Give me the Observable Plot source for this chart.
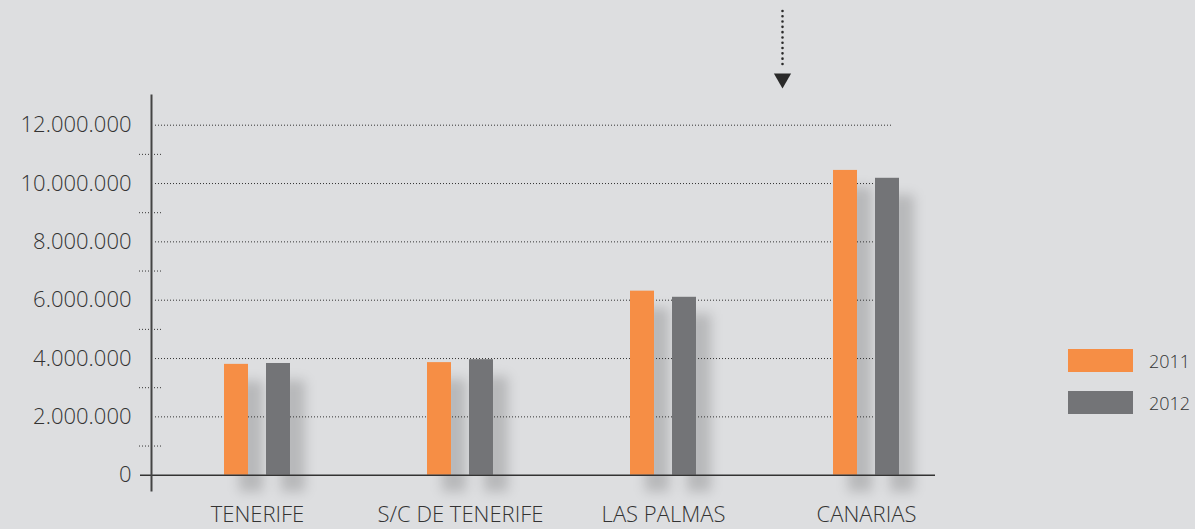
<!DOCTYPE html>
<html>
<head>
<meta charset="utf-8">
<script src="https://cdn.jsdelivr.net/npm/d3@7"></script>
<script src="https://cdn.jsdelivr.net/npm/@observablehq/plot@0.6"></script>
<style>
  html, body { margin: 0; padding: 0; background: #dddee0; }
  #wrap { position: relative; width: 1195px; height: 529px; overflow: hidden; }
  #legend { position: absolute; left: 1068px; top: 349px; font-family: "Open Sans", sans-serif; font-weight: 300; font-size: 18px; color: #333; }
  .item { display: flex; align-items: center; height: 23px; margin-bottom: 19px; }
  .sw { width: 65px; height: 23px; margin-right: 16px; }
</style>
</head>
<body>
<div id="wrap"><div id="legend"></div></div>
<script>
const categories = ["TENERIFE", "S/C DE TENERIFE", "LAS PALMAS", "CANARIAS"];
const years = ["2011", "2012"];
const values2011 = [3800000, 3860000, 6310000, 10450000];
const values2012 = [3830000, 3960000, 6100000, 10180000];
const yTicks = [0, 2000000, 4000000, 6000000, 8000000, 10000000, 12000000];
const gridTicks = [2000000, 4000000, 6000000, 8000000, 10000000, 12000000];
const minorTicks = [1000000, 3000000, 5000000, 7000000, 9000000, 11000000];
const arrowLine = [{y1: 15900000, y2: 14000000}];
const arrowHead = [{y: 13600000}];
const colors = ["#f68e45", "#737477"];

const d2011 = categories.map((c, i) => ({cat: c, value: values2011[i]}));
const d2012 = categories.map((c, i) => ({cat: c, value: values2012[i]}));
const fmt = d => d3.format(",")(d).replace(/,/g, ".");
const shadow = {fill: "#000", fillOpacity: 0.17, dx: 15, dy: 17};

const chart = Plot.plot({
  width: 1195,
  height: 529,
  marginLeft: 139,
  marginRight: 260,
  marginTop: 95,
  marginBottom: 39,
  style: {background: "#dddee0", fontFamily: "'Open Sans', sans-serif", fontWeight: 300, fontSize: "22px", color: "#333"},
  x: {domain: categories, range: [224, 899], paddingInner: 0.675, paddingOuter: 0, label: null},
  y: {domain: [0, 12000000], range: [474.7, 124.7], label: null},
  marks: [
    Plot.barY(d2011, {x: "cat", y: "value", insetRight: 42, ...shadow}),
    Plot.barY(d2012, {x: "cat", y: "value", insetLeft: 42, ...shadow}),
    Plot.ruleY(gridTicks, {stroke: "#333", strokeWidth: 1, strokeDasharray: "1,2", insetLeft: 16, insetRight: 42}),
    Plot.ruleY(minorTicks, {stroke: "#333", strokeWidth: 1, strokeDasharray: "1,2", insetRight: 772}),
    Plot.barY(d2011, {x: "cat", y: "value", fill: colors[0], insetRight: 42}),
    Plot.barY(d2012, {x: "cat", y: "value", fill: colors[1], insetLeft: 42}),
    Plot.ruleY([0], {stroke: "#333", strokeWidth: 1.5, insetLeft: 1}),
    Plot.frame({anchor: "left", dx: 12, stroke: "#444", strokeWidth: 2}),
    Plot.axisY({ticks: yTicks, tickSize: 0, tickPadding: 8, tickFormat: fmt, label: null}),
    Plot.axisX({tickSize: 0, tickPadding: 16, label: null}),
    Plot.ruleX(arrowLine, {x: () => "CANARIAS", y1: "y1", y2: "y2", dx: -84, stroke: "#2a2a2a", strokeWidth: 2.6, strokeDasharray: "0,5.3", strokeLinecap: "round"}),
    Plot.dot(arrowHead, {x: () => "CANARIAS", y: "y", dx: -84, symbol: "triangle", rotate: 180, r: 6.4, fill: "#2a2a2a", stroke: "none"})
  ]
});
chart.style.display = "block";
d3.select(chart).selectAll('g[aria-label="bar"]').filter((d, i) => i < 2).style("filter", "blur(6px)");
document.getElementById("wrap").prepend(chart);

const legend = document.getElementById("legend");
years.forEach((y, i) => {
  const it = document.createElement("div");
  it.className = "item";
  it.innerHTML = `<div class="sw" style="background:${colors[i]}"></div><span>${y}</span>`;
  legend.appendChild(it);
});
</script>
</body>
</html>
